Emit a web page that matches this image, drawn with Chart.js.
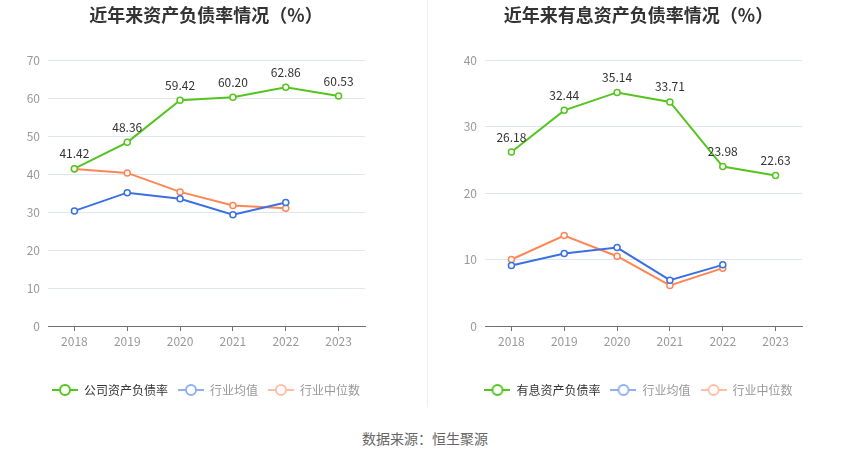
<!DOCTYPE html>
<html>
<head>
<meta charset="utf-8">
<script src="https://cdn.jsdelivr.net/npm/chart.js@4"></script>
<style>
  body { margin: 0; background: #fff; width: 850px; height: 459px; position: relative; overflow: hidden; }
  #leftBox { position: absolute; left: 0; top: 0; width: 412px; height: 410px; }
  #rightBox { position: absolute; left: 427px; top: 0; width: 423px; height: 410px; }
  #divider { position: absolute; left: 427px; top: 0; width: 1px; height: 407px; background: #eeeeee; }
  #source { position: absolute; left: 0; width: 850px; top: 428px; text-align: center; font: 14px 'Noto Sans CJK SC', sans-serif; color: #666; }
</style>
</head>
<body>
<div id="leftBox"><canvas id="leftChart"></canvas></div>
<div id="divider"></div>
<div id="rightBox"><canvas id="rightChart"></canvas></div>
<div id="source">数据来源：恒生聚源</div>
<script>
const years = ['2018', '2019', '2020', '2021', '2022', '2023'];

// 资产负债率
const debtRatio = [41.42, 48.36, 59.42, 60.20, 62.86, 60.53];
const debtIndustryAvg = [30.3, 35.1, 33.5, 29.3, 32.5, null];
const debtIndustryMedian = [41.3, 40.3, 35.3, 31.7, 31.0, null];

// 有息资产负债率
const interestRatio = [26.18, 32.44, 35.14, 33.71, 23.98, 22.63];
const interestIndustryAvg = [9.1, 10.9, 11.8, 6.9, 9.2, null];
const interestIndustryMedian = [10.0, 13.6, 10.5, 6.1, 8.7, null];

const FONT = "'Noto Sans CJK SC', 'Noto Sans', sans-serif";
const GREEN = '#55c41f';
const BLUE = '#3a70e2';
const ORANGE = '#ff8654';

function makeIcon(color) {
    const c = document.createElement('canvas');
    c.width = 26; c.height = 14;
    const ctx = c.getContext('2d');
    ctx.strokeStyle = color;
    ctx.lineWidth = 2;
    ctx.beginPath(); ctx.moveTo(0, 7); ctx.lineTo(26, 7); ctx.stroke();
    ctx.beginPath(); ctx.arc(13, 7, 5, 0, Math.PI * 2);
    ctx.fillStyle = '#fff'; ctx.fill(); ctx.stroke();
    return c;
}

const valueLabels = {
    id: 'valueLabels',
    afterDatasetsDraw(chart) {
        const ctx = chart.ctx;
        const meta = chart.getDatasetMeta(0);
        const data = chart.data.datasets[0].data;
        ctx.save();
        ctx.font = '12px ' + FONT;
        ctx.fillStyle = '#333';
        ctx.textAlign = 'center';
        ctx.textBaseline = 'middle';
        meta.data.forEach((pt, i) => {
            if (data[i] == null) return;
            ctx.fillText(data[i].toFixed(2), pt.x, pt.y - 15);
        });
        ctx.restore();
    }
};

function buildChart(el, title, mainLabel, main, avg, median, yMax, axisWidth, rightPad) {
    const series = [
        { label: mainLabel, data: main, color: GREEN, icon: makeIcon(GREEN), text: '#333' },
        { label: '行业均值', data: avg, color: BLUE, icon: makeIcon('#90b0f5'), text: '#999' },
        { label: '行业中位数', data: median, color: ORANGE, icon: makeIcon('#ffbea6'), text: '#999' }
    ];
    return new Chart(el, {
        type: 'line',
        data: {
            labels: years,
            datasets: series.map(s => ({
                label: s.label,
                data: s.data,
                borderColor: s.color,
                backgroundColor: '#fff',
                pointBackgroundColor: '#fff',
                pointBorderColor: s.color,
                pointBorderWidth: 1.5,
                pointRadius: 3,
                borderWidth: 2,
                tension: 0,
                spanGaps: false
            }))
        },
        options: {
            responsive: true,
            maintainAspectRatio: false,
            animation: false,
            layout: { padding: { top: 0, bottom: 4, left: 0, right: 0 } },
            plugins: {
                title: {
                    display: true,
                    text: title,
                    color: '#333',
                    font: { size: 18, weight: 'bold', family: FONT },
                    padding: { top: 4, bottom: 34.5 }
                },
                legend: {
                    position: 'bottom',
                    labels: {
                        usePointStyle: true,
                        pointStyleWidth: 26,
                        padding: 10,
                        font: { size: 12, family: FONT },
                        generateLabels: () => series.map((s, i) => ({
                            text: s.label,
                            pointStyle: s.icon,
                            fontColor: s.text,
                            datasetIndex: i,
                            lineWidth: 0,
                            hidden: false
                        }))
                    }
                },
                tooltip: { enabled: false }
            },
            scales: {
                x: {
                    offset: true,
                    grid: { offset: false, drawOnChartArea: false, drawTicks: true, tickLength: 5, color: '#6e7079' },
                    border: { display: true, color: '#6e7079' },
                    ticks: { color: '#999', font: { size: 12, family: FONT }, padding: 3 },
                    afterFit: s => { s.height = 48; }
                },
                y: {
                    min: 0,
                    max: yMax,
                    ticks: { stepSize: 10, color: '#999', font: { size: 12, family: FONT }, padding: 8 },
                    grid: { color: '#e0e6f1', drawTicks: false },
                    border: { display: false },
                    afterFit: s => { s.width = axisWidth; }
                },
                pad: {
                    position: 'right',
                    display: true,
                    grid: { display: false },
                    ticks: { display: false },
                    border: { display: false },
                    afterFit: s => { s.width = rightPad; }
                }
            }
        },
        plugins: [valueLabels]
    });
}

buildChart(document.getElementById('leftChart'), '近年来资产负债率情况（%）', '公司资产负债率',
    debtRatio, debtIndustryAvg, debtIndustryMedian, 70, 48, 47);
buildChart(document.getElementById('rightChart'), '近年来有息资产负债率情况（%）', '有息资产负债率',
    interestRatio, interestIndustryAvg, interestIndustryMedian, 40, 58, 48);
</script>
</body>
</html>
